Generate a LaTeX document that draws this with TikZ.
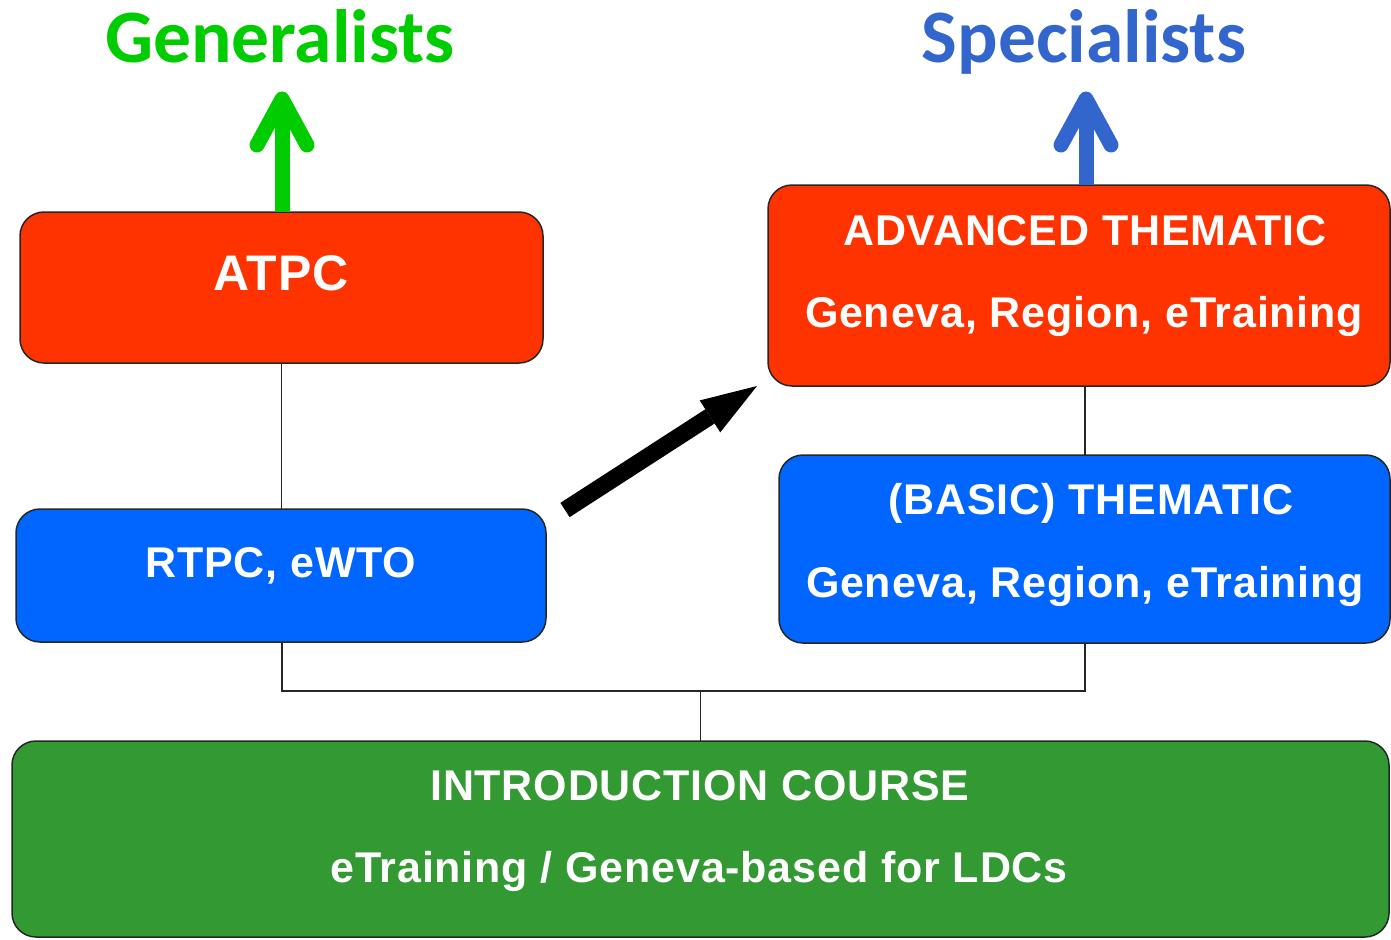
\documentclass[tikz,border=0pt]{standalone}
\usepackage{fontspec}
\setmainfont{Liberation Sans}
\newfontfamily\boxfont[LetterSpace=1.9]{Liberation Sans}
\newfontfamily\titlefont{Carlito}
\usetikzlibrary{arrows.meta,calc}
\definecolor{redbox}{HTML}{FF3300}
\definecolor{bluebox}{HTML}{0066FF}
\definecolor{greenbox}{HTML}{339933}
\definecolor{gentext}{HTML}{00CC00}
\definecolor{spectext}{HTML}{3366CC}
\tikzset{
  box/.style={draw=black!85, line width=1.5pt, rounded corners=24pt, inner sep=0pt, outer sep=0pt},
  boxtext/.style={text=white, font=\boxfont\bfseries\fontsize{43}{50}\selectfont, anchor=base, inner sep=0pt},
  titletext/.style={font=\titlefont\bfseries\fontsize{75.5}{80}\selectfont, anchor=base, inner sep=0pt},
  conn/.style={draw=black!85, line width=1.5pt},
  fatarrow/.style={line width=15pt, line cap=round, line join=round},
}
\begin{document}
\begin{tikzpicture}[x=1pt,y=-1pt]
\useasboundingbox (0,0) rectangle (1391,939);
% boxes
\node[box, fill=redbox, minimum width=523pt, minimum height=151pt] (atpc) at (281.5,287.5) {};
\node[box, fill=bluebox, minimum width=530pt, minimum height=133pt] (rtpc) at (281,575.5) {};
\node[box, fill=redbox, minimum width=622pt, minimum height=201pt] (adv) at (1079,285.5) {};
\node[box, fill=bluebox, minimum width=611pt, minimum height=188pt] (basic) at (1084.5,549) {};
\node[box, fill=greenbox, minimum width=1377pt, minimum height=196pt] (intro) at (700.5,839) {};
% texts
\node[boxtext, font=\boxfont\bfseries\fontsize{50}{56}\selectfont] (t1) at (281,290) {ATPC};
\node[boxtext] (t2) at (281,577) {RTPC, eWTO};
\node[boxtext] (t3) at (1085,245) {ADVANCED THEMATIC};
\node[boxtext] (t4) at (1084,327) {Geneva, Region, eTraining};
\node[boxtext] (t5) at (1091,514) {(BASIC) THEMATIC};
\node[boxtext] (t6) at (1085,597) {Geneva, Region, eTraining};
\node[boxtext] (t7) at (700,800) {INTRODUCTION COURSE};
\node[boxtext] (t8) at (699,882) {eTraining / Geneva-based for LDCs};
% titles
\node[titletext, text=gentext] (gen) at (280,63) {Generalists};
\node[titletext, text=spectext] (spec) at (1084,63) {Specialists};
% connectors
\draw[conn] (atpc.south) -- (atpc.south |- rtpc.north);
\draw[conn] ([xshift=6pt]adv.south) -- ([xshift=6pt]adv.south |- basic.north);
\coordinate (j1) at (282,691);
\coordinate (j2) at (1085,691);
\draw[conn] ([xshift=1pt]rtpc.south) -- (j1) -- (j2) -- ([xshift=0.5pt]basic.south);
\draw[conn] (intro.north) -- (intro.north |- j1);
% up arrows
\coordinate (gtip) at (282,99);
\draw[fatarrow, draw=gentext, line cap=butt] ([xshift=0.5pt]atpc.north) -- (gtip);
\draw[fatarrow, draw=gentext] ($(gtip)+(-25,46)$) -- (gtip) -- ($(gtip)+(25,46)$);
\coordinate (stip) at (1086,99);
\draw[fatarrow, draw=spectext, line cap=butt] ([xshift=7pt]adv.north) -- (stip);
\draw[fatarrow, draw=spectext] ($(stip)+(-25,46)$) -- (stip) -- ($(stip)+(25,46)$);
% black arrow
\coordinate (bs) at (565,510);
\coordinate (be) at (757,386);
\draw[line width=17pt, -{Triangle[length=56pt,width=38pt,line width=0pt]}] (bs) -- (be);
\end{tikzpicture}
\end{document}
